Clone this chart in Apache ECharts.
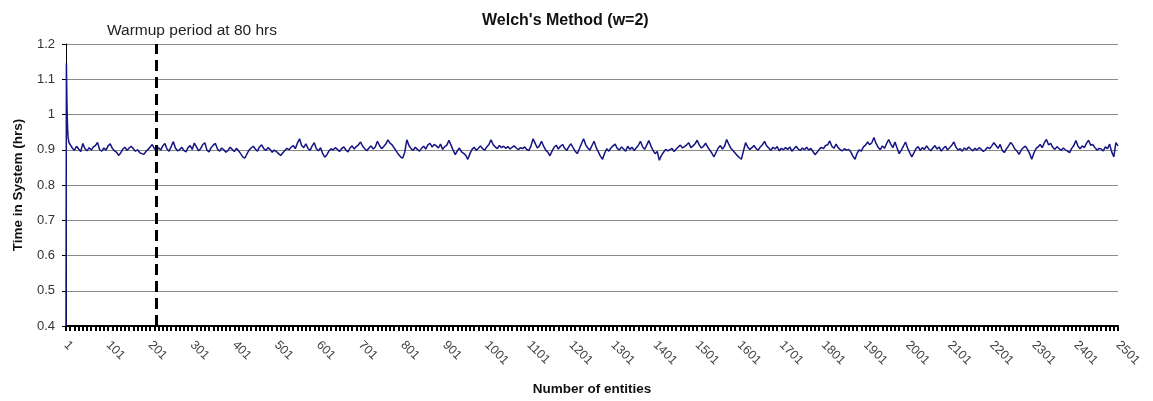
<!DOCTYPE html>
<html>
<head>
<meta charset="utf-8">
<title>Welch's Method (w=2)</title>
<script src="https://cdn.jsdelivr.net/npm/echarts@6/dist/echarts.min.js"></script>
<style>
    html, body {margin: 0; padding: 0; background: #fff;}
    #main {width: 1153px; height: 401px;}
</style>
</head>
<body>
<div id="main"></div>
<script>
// entity numbers on the x axis (1..2501)
const entities = [];
for (let i = 1; i <= 2501; i++) {
    entities.push(String(i));
}

// first few entities, read one by one (the start-up spike)
const headEntities = [1, 2, 3, 4, 5, 6, 8];
const headValues = [0.40, 1.145, 1.05, 0.99, 0.955, 0.935, 0.92];

// after that: one reading every 5 entities, starting at entity 11
const bodyStart = 11;
const bodyStep = 5;
const bodyValues = [
    // 11 - 106
    0.915,0.905,0.898,0.910,0.902,0.895,0.918,0.903,0.897,0.906,0.899,0.908,0.912,0.921,0.900,0.896,0.905,0.899,0.911,0.917,
    // 111 - 206
    0.904,0.897,0.893,0.884,0.891,0.902,0.907,0.898,0.905,0.910,0.903,0.896,0.900,0.892,0.889,0.887,0.895,0.901,0.908,0.915,
    // 211 - 306
    0.903,0.897,0.906,0.899,0.911,0.918,0.902,0.896,0.909,0.923,0.905,0.897,0.900,0.907,0.898,0.894,0.906,0.912,0.901,0.919,
    // 311 - 406
    0.908,0.897,0.903,0.915,0.920,0.899,0.894,0.906,0.913,0.918,0.902,0.896,0.905,0.900,0.893,0.898,0.907,0.901,0.895,0.904,
    // 411 - 506
    0.897,0.889,0.880,0.876,0.888,0.899,0.905,0.910,0.902,0.896,0.908,0.914,0.903,0.898,0.906,0.901,0.893,0.899,0.895,0.889,
    // 511 - 606
    0.884,0.891,0.898,0.904,0.900,0.907,0.912,0.903,0.919,0.931,0.912,0.906,0.917,0.904,0.898,0.911,0.920,0.903,0.897,0.906,
    // 611 - 706
    0.889,0.879,0.886,0.897,0.903,0.899,0.906,0.901,0.895,0.903,0.908,0.900,0.894,0.905,0.911,0.902,0.909,0.914,0.922,0.910,
    // 711 - 806
    0.903,0.897,0.905,0.911,0.902,0.908,0.924,0.912,0.903,0.909,0.916,0.928,0.919,0.914,0.905,0.896,0.887,0.880,0.876,0.893,
    // 811 - 906
    0.928,0.912,0.903,0.898,0.907,0.901,0.896,0.904,0.910,0.902,0.914,0.918,0.908,0.915,0.911,0.905,0.916,0.901,0.909,0.913,
    // 911 - 1006
    0.927,0.913,0.899,0.886,0.897,0.905,0.894,0.890,0.884,0.873,0.889,0.901,0.907,0.898,0.904,0.911,0.903,0.899,0.908,0.915,
    // 1011 - 1106
    0.928,0.915,0.908,0.903,0.912,0.906,0.910,0.904,0.909,0.902,0.907,0.911,0.905,0.900,0.906,0.903,0.908,0.901,0.898,0.911,
    // 1111 - 1206
    0.931,0.918,0.905,0.911,0.924,0.910,0.899,0.893,0.883,0.896,0.907,0.913,0.902,0.910,0.915,0.904,0.898,0.909,0.917,0.906,
    // 1211 - 1306
    0.896,0.889,0.903,0.917,0.931,0.914,0.905,0.899,0.912,0.924,0.906,0.894,0.882,0.873,0.890,0.903,0.896,0.905,0.911,0.916,
    // 1311 - 1406
    0.904,0.899,0.908,0.902,0.896,0.910,0.901,0.907,0.898,0.905,0.912,0.924,0.909,0.901,0.913,0.926,0.911,0.898,0.889,0.895,
    // 1411 - 1506
    0.870,0.884,0.893,0.901,0.897,0.900,0.904,0.895,0.902,0.908,0.913,0.905,0.909,0.914,0.920,0.906,0.911,0.917,0.927,0.913,
    // 1511 - 1606
    0.905,0.910,0.919,0.907,0.899,0.890,0.880,0.893,0.905,0.912,0.902,0.910,0.929,0.916,0.904,0.898,0.891,0.884,0.878,0.873,
    // 1611 - 1706
    0.897,0.920,0.908,0.901,0.906,0.912,0.903,0.899,0.908,0.914,0.924,0.911,0.905,0.898,0.907,0.902,0.909,0.897,0.904,0.900,
    // 1711 - 1806
    0.906,0.901,0.908,0.896,0.903,0.910,0.902,0.898,0.905,0.900,0.907,0.899,0.904,0.895,0.886,0.893,0.901,0.907,0.903,0.912,
    // 1811 - 1906
    0.914,0.925,0.910,0.904,0.916,0.906,0.900,0.897,0.903,0.899,0.901,0.894,0.882,0.873,0.890,0.900,0.896,0.908,0.913,0.922,
    // 1911 - 2006
    0.914,0.920,0.935,0.918,0.907,0.900,0.911,0.904,0.917,0.929,0.916,0.906,0.922,0.905,0.889,0.899,0.910,0.922,0.905,0.892,
    // 2011 - 2106
    0.880,0.891,0.903,0.909,0.898,0.906,0.901,0.911,0.903,0.897,0.905,0.912,0.902,0.908,0.896,0.904,0.910,0.899,0.906,0.913,
    // 2111 - 2206
    0.922,0.907,0.899,0.903,0.896,0.905,0.900,0.908,0.902,0.897,0.904,0.899,0.906,0.901,0.895,0.900,0.907,0.903,0.911,0.920,
    // 2211 - 2306
    0.912,0.904,0.915,0.898,0.892,0.903,0.911,0.921,0.913,0.902,0.896,0.887,0.899,0.906,0.910,0.901,0.889,0.873,0.890,0.903,
    // 2311 - 2406
    0.908,0.915,0.906,0.920,0.929,0.914,0.918,0.907,0.901,0.909,0.903,0.898,0.905,0.900,0.896,0.892,0.904,0.912,0.926,0.910,
    // 2411 - 2501
    0.903,0.911,0.906,0.918,0.927,0.913,0.915,0.906,0.899,0.904,0.902,0.897,0.908,0.903,0.916,0.894,0.880,0.920,0.911
];

// warmup cut-off, as drawn (just right of the 201 tick)
const warmupEntity = 215;
const warmupLabel = 'Warmup period at 80 hrs';

// y axis range
const yMin = 0.4;
const yMax = 1.2;
const yStep = 0.1;

const fontName = '"Liberation Sans", Arial, sans-serif';

// [category index, value] pairs for the line
const seriesData = [];
headEntities.forEach((e, i) => {
    seriesData.push([e - 1, headValues[i]]);
});
bodyValues.forEach((v, i) => {
    seriesData.push([bodyStart - 1 + i * bodyStep, v]);
});

const myChart = echarts.init(document.getElementById('main'), null, {renderer: 'canvas'});
myChart.setOption({
    animation: false,
    backgroundColor: '#ffffff',
    title: [
        {
            text: "Welch's Method (w=2)",
            left: 477,
            top: 8,
            textStyle: {fontFamily: fontName, fontSize: 16, fontWeight: 'bold', color: '#111'}
        },
        {
            text: warmupLabel,
            left: 102,
            top: 18,
            textStyle: {fontFamily: fontName, fontSize: 15.5, fontWeight: 'normal', color: '#222'}
        }
    ],
    grid: {
        left: 66,
        right: 35,
        top: 44,
        bottom: 69
    },
    xAxis: {
        type: 'category',
        data: entities,
        boundaryGap: false,
        name: 'Number of entities',
        nameLocation: 'middle',
        nameGap: 56,
        nameTextStyle: {fontFamily: fontName, fontSize: 13.5, fontWeight: 'bold', color: '#111'},
        axisLine: {show: true, lineStyle: {color: '#000', width: 2}},
        axisTick: {show: true, interval: 9, length: 5, lineStyle: {color: '#000', width: 2}},
        axisLabel: {
            interval: 99,
            rotate: -45,
            margin: 17,
            fontFamily: fontName,
            fontSize: 12.5,
            color: '#444'
        },
        splitLine: {show: false}
    },
    yAxis: {
        type: 'value',
        min: yMin,
        max: yMax,
        interval: yStep,
        name: 'Time in System (hrs)',
        nameLocation: 'middle',
        nameGap: 41,
        nameTextStyle: {fontFamily: fontName, fontSize: 13.5, fontWeight: 'bold', color: '#111'},
        axisLine: {show: true, lineStyle: {color: '#000', width: 1}},
        axisTick: {show: true, length: 4, lineStyle: {color: '#000'}},
        axisLabel: {
            margin: 11,
            fontFamily: fontName,
            fontSize: 13,
            color: '#333',
            formatter: function (v) {
                return String(Math.round(v * 10) / 10);
            }
        },
        splitLine: {show: true, lineStyle: {color: '#8a8a8a', width: 1.2}}
    },
    series: [
        {
            name: 'Time in System',
            type: 'line',
            data: seriesData,
            showSymbol: false,
            symbol: 'none',
            clip: true,
            lineStyle: {color: '#141482', width: 1.5},
            z: 3,
            markLine: {
                silent: true,
                symbol: 'none',
                label: {show: false},
                lineStyle: {color: '#000', width: 3, type: [11, 6]},
                data: [{xAxis: warmupEntity - 1}]
            }
        }
    ]
});
</script>
</body>
</html>
